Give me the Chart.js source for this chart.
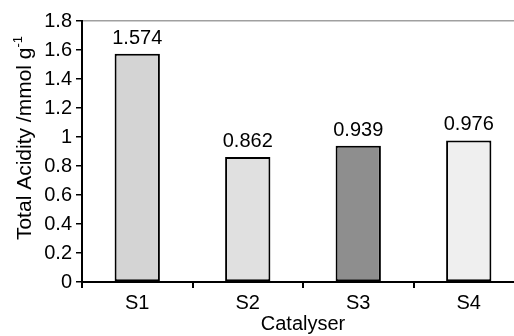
<!DOCTYPE html>
<html>
<head>
<meta charset="utf-8">
<script src="https://cdn.jsdelivr.net/npm/chart.js@4/dist/chart.umd.min.js"></script>
<style>
  html, body { margin: 0; padding: 0; background: #fff; overflow: hidden; }
  #wrap { width: 530px; height: 336px; }
</style>
</head>
<body>
<div id="wrap"><canvas id="acidChart"></canvas></div>
<script>
const catalysts = ['S1', 'S2', 'S3', 'S4'];
const acidity = [1.574, 0.862, 0.939, 0.976];
const barColors = ['#d4d4d4', '#e0e0e0', '#8e8e8e', '#efefef'];
const yTicks = [0, 0.2, 0.4, 0.6, 0.8, 1, 1.2, 1.4, 1.6, 1.8];

const FONT = 'Arial, "Liberation Sans", sans-serif';
const FS = 20;

// value labels on bars + y axis title with superscript
const extras = {
  id: 'extras',
  afterDatasetsDraw(chart) {
    const ctx = chart.ctx;
    const meta = chart.getDatasetMeta(0);
    ctx.save();
    ctx.font = FS + 'px ' + FONT;
    ctx.fillStyle = '#000';
    ctx.textAlign = 'center';
    ctx.textBaseline = 'alphabetic';
    meta.data.forEach((bar, i) => {
      ctx.fillText(String(acidity[i]), bar.x, bar.y - 10);
    });

    // y title
    const main = 'Total Acidity /mmol g';
    const sup = '-1';
    ctx.font = '21px ' + FONT;
    const wMain = ctx.measureText(main).width;
    ctx.font = '13px ' + FONT;
    const wSup = ctx.measureText(sup).width;
    const total = wMain + wSup;
    const cy = 138;
    ctx.translate(31, cy);
    ctx.rotate(-Math.PI / 2);
    ctx.textAlign = 'left';
    ctx.font = '21px ' + FONT;
    ctx.fillText(main, -total / 2, 0);
    ctx.font = '13px ' + FONT;
    ctx.fillText(sup, -total / 2 + wMain, -9);
    ctx.restore();
  }
};

new Chart(document.getElementById('acidChart'), {
  type: 'bar',
  data: {
    labels: catalysts,
    datasets: [{
      data: acidity,
      backgroundColor: barColors,
      borderColor: '#000',
      borderWidth: 2,
      borderSkipped: false,
      barPercentage: 0.41,
      categoryPercentage: 1
    }]
  },
  options: {
    responsive: true,
    maintainAspectRatio: false,
    animation: false,
    layout: { padding: { top: 21, right: 6, left: 0, bottom: 0 } },
    plugins: { legend: { display: false }, tooltip: { enabled: false } },
    scales: {
      x: {
        grid: { display: true, drawOnChartArea: false, tickLength: 6, color: '#000', lineWidth: 2, offset: true },
        border: { color: '#000', width: 2 },
        ticks: { color: '#000', font: { size: FS, family: FONT }, padding: 3, maxRotation: 0 },
        title: { display: true, text: 'Catalyser', color: '#000', font: { size: FS, family: FONT }, padding: { top: 0, bottom: 0 } },
        afterFit: s => { s.height = 54; }
      },
      y: {
        min: 0,
        max: 1.8,
        afterBuildTicks: s => { s.ticks = yTicks.map(v => ({ value: v })); },
        grid: {
          color: c => (c.tick && c.tick.value === 1.8) ? '#a0a0a0' : 'rgba(0,0,0,0)',
          tickColor: '#000',
          tickLength: 6,
          lineWidth: 1.5
        },
        border: { color: '#000', width: 2 },
        ticks: { color: '#000', font: { size: FS, family: FONT }, padding: 4, callback: v => String(v) },
        title: { display: false },
        afterFit: s => { s.width = 82; }
      }
    }
  },
  plugins: [extras]
});
</script>
</body>
</html>
